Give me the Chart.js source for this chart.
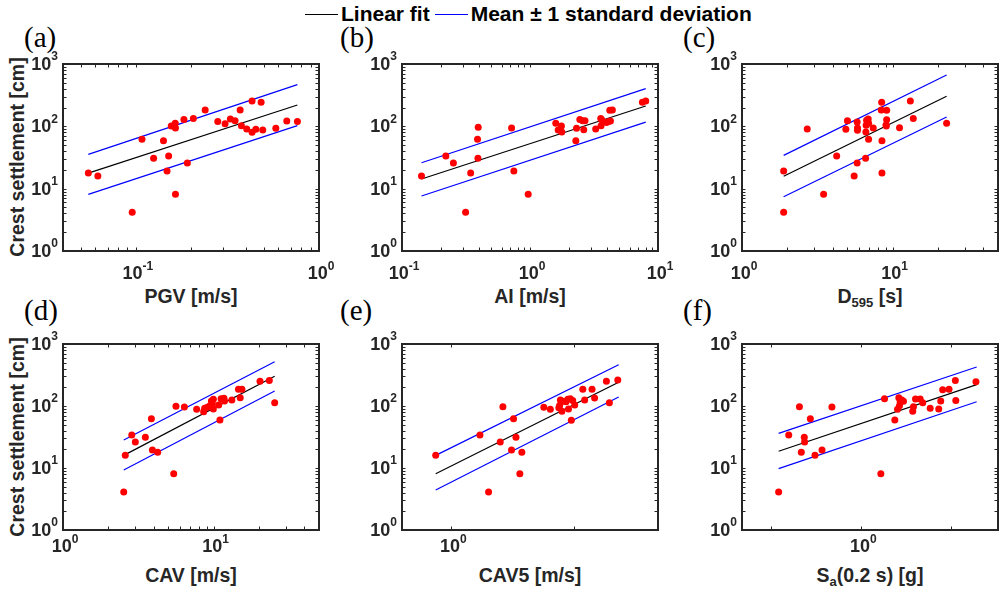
<!DOCTYPE html>
<html>
<head>
<meta charset="utf-8">
<script src="https://cdn.jsdelivr.net/npm/chart.js@4.4.1/dist/chart.umd.min.js"></script>
<style>
body { margin:0; width:1001px; height:595px; overflow:hidden; background:#fff; position:relative; font-family:"Liberation Sans", Arial, sans-serif; }
canvas { position:absolute; }
.lab { position:absolute; font-family:"Liberation Serif","Times New Roman",serif; font-size:29px; line-height:29px; color:#000; }
.xt { position:absolute; width:256px; text-align:center; font-weight:bold; font-size:19.5px; line-height:20px; color:#262626; white-space:nowrap; }
.xt sub { font-size:13px; vertical-align:-4px; }
.yt { position:absolute; width:260px; height:22px; text-align:center; font-weight:bold; font-size:19.5px; line-height:22px; color:#262626; transform:rotate(-90deg); white-space:nowrap; }
#legend { position:absolute; left:305px; top:3px; height:22px; display:flex; align-items:center; font-weight:bold; font-size:21px; color:#000; white-space:nowrap; }
#legend .ln { display:inline-block; width:33px; height:0; border-top:1.5px solid #000; margin-right:3px; }
</style>
</head>
<body>

<div id="legend"><span class="ln"></span><span>Linear fit</span><span class="ln" style="border-color:#0000ff;margin-left:5px"></span><span>Mean &plusmn; 1 standard deviation</span></div>

<div class="lab" style="left:24px;top:23px">(a)</div>
<div class="lab" style="left:340px;top:23px">(b)</div>
<div class="lab" style="left:683px;top:23px">(c)</div>
<div class="lab" style="left:24px;top:296px">(d)</div>
<div class="lab" style="left:340px;top:296px">(e)</div>
<div class="lab" style="left:683px;top:296px">(f)</div>

<div class="yt" style="left:-113px;top:146px">Crest settlement [cm]</div>
<div class="yt" style="left:-113px;top:426px">Crest settlement [cm]</div>

<div class="xt" style="left:63px;top:286px">PGV [m/s]</div>
<div class="xt" style="left:402px;top:286px">AI [m/s]</div>
<div class="xt" style="left:742px;top:286px">D<sub>595</sub> [s]</div>
<div class="xt" style="left:63px;top:565px">CAV [m/s]</div>
<div class="xt" style="left:402px;top:565px">CAV5 [m/s]</div>
<div class="xt" style="left:742px;top:565px">S<sub>a</sub>(0.2 s) [g]</div>

<canvas id="pa"></canvas>
<canvas id="pb"></canvas>
<canvas id="pc"></canvas>
<canvas id="pd"></canvas>
<canvas id="pe"></canvas>
<canvas id="pf"></canvas>

<script>
// ---- data ----
// (a) PGV
var pgv = [0.055, 0.062, 0.0955, 0.108, 0.125, 0.1415, 0.148, 0.151, 0.156, 0.164, 0.1645, 0.1645, 0.183, 0.191, 0.206, 0.239, 0.280, 0.307, 0.328, 0.348, 0.371, 0.377, 0.403, 0.431, 0.431, 0.452, 0.483, 0.493, 0.581, 0.667, 0.762];
var settlePGV = [17.8, 16.0, 4.17, 61.9, 30.7, 58.9, 19.2, 33.4, 101, 112, 94, 8.1, 129, 25.8, 134, 183, 120, 110, 131, 123, 183, 102, 90.6, 255, 80.1, 89.5, 243, 87.3, 92.9, 122, 119];
var pgvLineX = [0.055, 0.762];
var pgvFit = [17.8, 220];
var pgvUp = [35.5, 466];
var pgvLo = [8.1, 102.5];

// (b) AI
var ai = [0.142, 0.220, 0.252, 0.314, 0.344, 0.389, 0.394, 0.392, 0.718, 0.748, 0.968, 1.59, 1.66, 1.76, 1.77, 2.28, 2.31, 2.45, 2.58, 2.63, 2.69, 3.26, 3.57, 3.59, 3.63, 3.95, 4.12, 4.25, 4.20, 4.40, 7.55, 8.02];
var settleAI = [16.0, 33.4, 25.8, 4.17, 17.8, 61.9, 96.4, 30.7, 94, 19.2, 8.1, 112, 87.3, 101, 81, 58.9, 92.9, 129, 123, 88.4, 123, 90.6, 133, 102.5, 128, 115, 119, 122, 181, 183, 243, 255];
var aiLineX = [0.142, 8.02];
var aiFit = [14.3, 212];
var aiUp = [26.1, 402];
var aiLo = [7.63, 117];

// (c) D595
var d595 = [1.89, 1.89, 2.71, 3.48, 4.25, 4.89, 5.01, 5.55, 5.81, 5.81, 5.84, 5.84, 6.61, 6.64, 6.67, 6.71, 6.88, 6.92, 6.92, 7.43, 8.45, 8.40, 8.49, 8.49, 9.03, 9.12, 9.12, 9.07, 11.1, 13.1, 13.7, 22.8];
var settleD = [19.2, 4.17, 90.6, 8.1, 33.4, 89.5, 123, 16.0, 25.8, 117, 94, 86.3, 30.7, 81, 104, 125, 131, 61.9, 112, 94, 243, 183, 58.9, 17.8, 105, 181, 128, 101, 95.2, 255, 134, 112];
var dLineX = [1.89, 22.8];
var dFit = [15.8, 303];
var dUp = [34.2, 666];
var dLo = [7.44, 141];

// (d) CAV
var cav = [2.53, 2.59, 2.86, 3.02, 3.52, 3.86, 3.92, 4.25, 5.43, 5.62, 6.39, 7.71, 8.58, 8.71, 9.08, 9.40, 9.66, 9.80, 9.95, 9.95, 10.8, 11.0, 11.2, 11.7, 11.8, 13.2, 14.6, 15.0, 15.4, 20.3, 23.4, 25.4];
var settleCAV = [4.10, 16.0, 34.1, 26.3, 31.2, 62.5, 19.5, 17.9, 8.1, 98.8, 96.4, 88.3, 81.0, 91.7, 95.1, 100, 120, 108, 128, 89.5, 104, 59.4, 131, 133, 120, 125, 186, 136, 186, 250, 259, 113];
var cavLineX = [2.53, 25.4];
var cavFit = [16.0, 301];
var cavUp = [28.3, 519];
var cavLo = [9.28, 175];

// (e) CAV5
var cav5 = [0.864, 1.308, 1.418, 1.582, 1.622, 1.759, 1.792, 1.833, 1.901, 1.937, 2.38, 2.53, 2.74, 2.76, 2.78, 2.82, 2.84, 2.93, 2.98, 3.00, 3.05, 3.08, 3.12, 3.18, 3.43, 3.49, 3.74, 3.83, 4.28, 4.40, 4.76];
var settleCAV5 = [16.0, 34.1, 4.10, 26.3, 97.5, 19.5, 62.5, 31.2, 8.1, 17.9, 95.1, 88.3, 94, 102, 125, 82, 119, 117, 128, 89.5, 131, 58.7, 123, 104, 186, 125, 186, 135, 250, 113, 263];
var cav5LineX = [0.864, 4.80];
var cav5Fit = [8.1, 241];
var cav5Up = [16.0, 464];
var cav5Lo = [4.42, 140];

// (f) Sa(0.2 s)
var sa = [0.347, 0.395, 0.453, 0.464, 0.482, 0.484, 0.521, 0.553, 0.605, 0.687, 1.286, 1.348, 1.538, 1.592, 1.619, 1.633, 1.647, 1.682, 1.718, 1.935, 1.953, 2.005, 2.128, 2.20, 2.42, 2.70, 2.77, 2.84, 3.08, 3.34, 3.36, 4.35];
var settleSa = [4.10, 34.1, 97.5, 17.9, 31.2, 26.3, 62.5, 16.0, 19.5, 96.4, 8.1, 131, 59.4, 88.3, 136, 101, 116, 125, 119, 82, 97.5, 130, 130, 113, 91.7, 89.5, 120, 183, 186, 259, 123, 247];
var saLineX = [0.347, 4.39];
var saFit = [18.6, 221];
var saUp = [36.2, 426];
var saLo = [9.76, 117];

// tick labels (decades) and extra tick positions
var yLabels = [1, 10, 100, 1000];
var labelsA = [0.1, 1];
var labelsB = [0.1, 1, 10];
var labelsCD = [1, 10];
var labelsEF = [1];
var halfTicksE = [1, 3.162];
var halfTicksF = [0.3162, 1, 3.162];

function minorTicks(lo, hi) {
	var t = [];
	for (var d = Math.floor(Math.log10(lo)) - 1; d <= Math.ceil(Math.log10(hi)); d++) {
		for (var k = 1; k < 10; k++) {
			var v = k * Math.pow(10, d);
			if (v >= lo * 0.999 && v <= hi * 1.001) t.push(v);
		}
	}
	return t;
}

var frameTicks = {
	id: 'frameTicks',
	afterDatasetsDraw: function(chart) {
		var o = chart.options.plugins.frameTicks;
		var ctx = chart.ctx, a = chart.chartArea;
		var xs = chart.scales.x, ys = chart.scales.y;
		var tl = 3.5;
		ctx.save();
		ctx.strokeStyle = '#262626';
		ctx.lineWidth = 1;
		ctx.beginPath();
		o.xTicks.forEach(function(v) {
			var px = Math.round(xs.getPixelForValue(v)) + 0.5;
			if (px < a.left + 2 || px > a.right - 2) return;
			ctx.moveTo(px, a.bottom); ctx.lineTo(px, a.bottom - tl);
			ctx.moveTo(px, a.top); ctx.lineTo(px, a.top + tl);
		});
		o.yTicks.forEach(function(v) {
			var py = Math.round(ys.getPixelForValue(v)) + 0.5;
			if (py < a.top + 2 || py > a.bottom - 2) return;
			ctx.moveTo(a.left, py); ctx.lineTo(a.left + tl, py);
			ctx.moveTo(a.right, py); ctx.lineTo(a.right - tl, py);
		});
		ctx.stroke();
		ctx.lineWidth = 2;
		ctx.strokeRect(a.left, a.top, a.right - a.left, a.bottom - a.top);

		ctx.fillStyle = '#262626';
		var big = 'bold 18px "Liberation Sans", Arial, sans-serif';
		var small = 'bold 12px "Liberation Sans", Arial, sans-serif';
		ctx.textBaseline = 'middle';
		// x labels
		o.xLabels.forEach(function(v) {
			var e = String(Math.round(Math.log10(v)));
			var px = xs.getPixelForValue(v);
			ctx.font = big; var w1 = ctx.measureText('10').width;
			ctx.font = small; var w2 = ctx.measureText(e).width;
			var x0 = px - (w1 + w2) / 2 + 2;
			var yy = a.bottom + o.xLabOff;
			ctx.textAlign = 'left';
			ctx.font = big; ctx.fillText('10', x0, yy);
			ctx.font = small; ctx.fillText(e, x0 + w1, yy - 7);
		});
		// y labels
		o.yLabels.forEach(function(v) {
			var e = String(Math.round(Math.log10(v)));
			var py = ys.getPixelForValue(v);
			ctx.font = small; var w2 = ctx.measureText(e).width;
			ctx.textAlign = 'right';
			ctx.fillText(e, a.left - 5, py - 7);
			ctx.font = big; ctx.fillText('10', a.left - 5 - w2, py + 1);
		});
		ctx.restore();
	}
};

function panel(id, left, top, h, xv, yv, lx, fit, up, lo, xmin, xmax, xTicks, xLabels, xLabOff) {
	var cv = document.getElementById(id);
	var pad = {left: 62, top: 16, right: 20, bottom: 42};
	cv.width = 256 + pad.left + pad.right;
	cv.height = h + pad.top + pad.bottom;
	cv.style.left = (left - pad.left) + 'px';
	cv.style.top = (top - pad.top) + 'px';
	var pts = xv.map(function(v, i) { return {x: v, y: yv[i]}; });
	function seg(ys) { return lx.map(function(v, i) { return {x: v, y: ys[i]}; }); }
	return new Chart(cv, {
		type: 'scatter',
		data: {
			datasets: [
				{ data: pts, pointRadius: 3.5, pointBackgroundColor: '#ff0000', pointBorderWidth: 0, pointBorderColor: '#ff0000' },
				{ data: seg(fit), showLine: true, borderColor: '#000000', borderWidth: 1.2, pointRadius: 0, fill: false },
				{ data: seg(up), showLine: true, borderColor: '#0000ff', borderWidth: 1.2, pointRadius: 0, fill: false },
				{ data: seg(lo), showLine: true, borderColor: '#0000ff', borderWidth: 1.2, pointRadius: 0, fill: false }
			]
		},
		options: {
			responsive: false,
			animation: false,
			events: [],
			layout: { padding: pad },
			plugins: {
				legend: { display: false },
				tooltip: { enabled: false },
				frameTicks: { xTicks: xTicks, yTicks: minorTicks(1, 1000), xLabels: xLabels, yLabels: yLabels, xLabOff: xLabOff }
			},
			scales: {
				x: { type: 'logarithmic', min: xmin, max: xmax, bounds: 'data', display: false },
				y: { type: 'logarithmic', min: 1, max: 1000, bounds: 'data', display: false }
			}
		},
		plugins: [frameTicks]
	});
}

panel('pa', 63, 64, 187, pgv, settlePGV, pgvLineX, pgvFit, pgvUp, pgvLo, 0.04, 1, minorTicks(0.04, 1), labelsA, 23);
panel('pb', 402, 64, 187, ai, settleAI, aiLineX, aiFit, aiUp, aiLo, 0.1, 10, minorTicks(0.1, 10), labelsB, 23);
panel('pc', 742, 64, 187, d595, settleD, dLineX, dFit, dUp, dLo, 1, 50, minorTicks(1, 50), labelsCD, 23);
panel('pd', 63, 344, 186, cav, settleCAV, cavLineX, cavFit, cavUp, cavLo, 1, 50, minorTicks(1, 50), labelsCD, 17);
panel('pe', 402, 344, 186, cav5, settleCAV5, cav5LineX, cav5Fit, cav5Up, cav5Lo, 0.63, 6.94, halfTicksE, labelsEF, 17);
panel('pf', 742, 344, 186, sa, settleSa, saLineX, saFit, saUp, saLo, 0.217, 5.77, halfTicksF, labelsEF, 17);
</script>
</body>
</html>
